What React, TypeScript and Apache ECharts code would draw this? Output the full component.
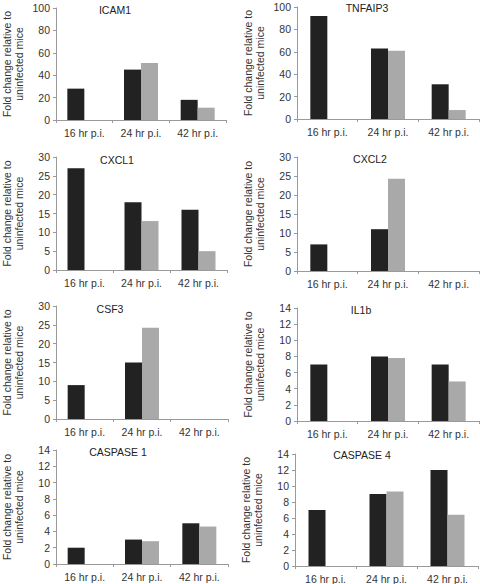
import React, { useEffect, useRef } from "react";
import * as echarts from "echarts";

const categories = ["16 hr p.i.", "24 hr p.i.", "42 hr p.i."];
const genes = ["ICAM1", "TNFAIP3", "CXCL1", "CXCL2", "CSF3", "IL1b", "CASPASE 1", "CASPASE 4"];
const darkValues = [
  [28, 45, 18],
  [92, 63, 31],
  [27, 18, 16],
  [7, 11, 0],
  [9, 15, 0],
  [7, 8, 7],
  [2, 3, 5],
  [7, 9, 12],
];
const grayValues = [
  [0, 51, 11],
  [0, 61, 8],
  [0, 13, 5],
  [0, 24.3, 0],
  [0, 24.2, 0],
  [0, 7.8, 4.9],
  [0, 2.8, 4.6],
  [0, 9.3, 6.4],
];
const yMax = [100, 100, 30, 30, 30, 14, 14, 14];
const yStep = [20, 20, 5, 5, 5, 2, 2, 2];
const yAxisTitle = "Fold change relative to\nuninfected mice";

// layout: [left, top, width, height] per panel
const grids = [
  [45, 8, 181, 112],
  [297, 7, 182, 112],
  [45, 157, 182, 113],
  [297, 157, 182, 114],
  [45, 306, 183, 113],
  [297, 308, 182, 113],
  [45, 450, 183, 114],
  [295, 454, 183, 113],
];
const titlePos = [
  [115, 4],
  [367, 2],
  [117, 154],
  [370, 153],
  [110, 303],
  [361, 304],
  [118, 446],
  [362, 449],
];

const FONT = "'Liberation Sans', Arial, sans-serif";

export default function App() {
  const ref = useRef<HTMLDivElement>(null);
  useEffect(() => {
    if (!ref.current) return;
    const chart = echarts.init(ref.current, null, { renderer: "svg" });
    const axisColor = "#9a9a9a";
    const textColor = "#333";
    const option: any = {
      animation: false,
      backgroundColor: "#fff",
      textStyle: { fontFamily: FONT },
      title: genes.map((g, i) => ({
        text: g,
        left: titlePos[i][0],
        top: titlePos[i][1],
        textAlign: "center",
        padding: 0,
        textStyle: { fontSize: 10.5, fontWeight: "normal", color: "#222", fontFamily: FONT },
      })),
      grid: grids.map((g) => ({ left: g[0], top: g[1], width: g[2], height: g[3], containLabel: false })),
      xAxis: genes.map((_, i) => ({
        type: "category",
        gridIndex: i,
        data: categories,
        axisLine: { lineStyle: { color: axisColor, width: 1 } },
        axisTick: { show: true, length: 3, lineStyle: { color: axisColor } },
        axisLabel: { color: textColor, fontSize: 10.5, margin: 7, fontFamily: FONT },
        splitLine: { show: false },
      })),
      yAxis: genes.map((_, i) => ({
        type: "value",
        gridIndex: i,
        min: 0,
        max: yMax[i],
        interval: yStep[i],
        name: yAxisTitle,
        nameLocation: "middle",
        nameRotate: 90,
        nameGap: 31,
        nameTextStyle: { color: textColor, fontSize: 10.5, lineHeight: 12, fontFamily: FONT },
        axisLine: { show: true, lineStyle: { color: axisColor, width: 1 } },
        axisTick: { show: true, length: 3, lineStyle: { color: axisColor } },
        axisLabel: { color: textColor, fontSize: 10.5, margin: 6, fontFamily: FONT },
        splitLine: { show: false },
      })),
      series: genes.flatMap((_, i) => [
        {
          type: "bar",
          xAxisIndex: i,
          yAxisIndex: i,
          data: darkValues[i],
          barWidth: 17,
          barGap: "0%",
          itemStyle: { color: "#222222" },
        },
        {
          type: "bar",
          xAxisIndex: i,
          yAxisIndex: i,
          data: grayValues[i],
          barWidth: 17,
          barGap: "0%",
          itemStyle: { color: "#a9a9a9" },
        },
      ]),
    };
    chart.setOption(option);
    return () => chart.dispose();
  }, []);
  return (
    <div
      ref={ref}
      style={{ position: "absolute", left: 0, top: 0, width: 480, height: 584 }}
    />
  );
}
